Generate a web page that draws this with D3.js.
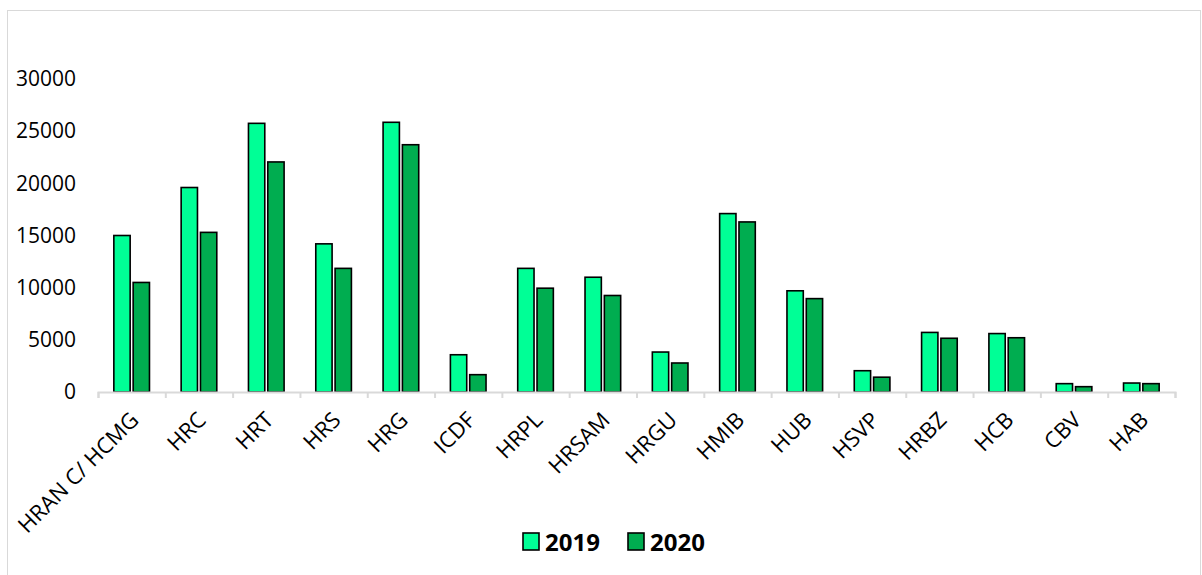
<!DOCTYPE html>
<html>
<head>
<meta charset="utf-8">
<script src="https://cdn.jsdelivr.net/npm/d3@7"></script>
<style>
  body { margin: 0; background: #fff; }
  svg { display: block; font-family: "Open Sans", sans-serif; }
</style>
</head>
<body>
<svg id="chart" width="1202" height="575"></svg>
<script>
const categories = ['HRAN C/ HCMG', 'HRC', 'HRT', 'HRS', 'HRG', 'ICDF', 'HRPL', 'HRSAM',
  'HRGU', 'HMIB', 'HUB', 'HSVP', 'HRBZ', 'HCB', 'CBV', 'HAB'];
const series = ['2019', '2020'];
const values2019 = [15000, 19600, 25750, 14200, 25850, 3570, 11850, 11000,
  3830, 17100, 9700, 2040, 5710, 5600, 800, 860];
const values2020 = [10500, 15300, 22050, 11850, 23700, 1660, 9950, 9250,
  2780, 16300, 8950, 1420, 5150, 5200, 510, 800];
const yTicks = [0, 5000, 10000, 15000, 20000, 25000, 30000];
const colors = ['#00FF96', '#00AD50'];

const svg = d3.select('#chart');

// outer border
svg.append('rect')
  .attr('x', 7.5).attr('y', 10.5)
  .attr('width', 1193).attr('height', 575)
  .attr('fill', 'none').attr('stroke', '#d9d9d9').attr('stroke-width', 1);

const plotLeft = 98, plotRight = 1175, baseline = 392, plotTop = 79;

const x = d3.scaleBand().domain(categories).range([plotLeft, plotRight]);
const x1 = d3.scaleBand().domain(series).range([0, x.bandwidth()])
  .paddingInner(0.155).paddingOuter(0.82);
const y = d3.scaleLinear().domain([0, 30000]).range([baseline, plotTop]);

// y axis labels only
const yAxis = svg.append('g')
  .attr('transform', `translate(${plotLeft},0)`)
  .call(d3.axisLeft(y).tickValues(yTicks).tickSize(0).tickPadding(22).tickFormat(d3.format('d')));
yAxis.select('.domain').remove();
yAxis.selectAll('text').attr('font-size', 21).attr('fill', '#000')
  .attr('font-family', '"Open Sans", sans-serif');

// bars
const rows = categories.map((c, i) => ({ cat: c, vals: [values2019[i], values2020[i]] }));
const groups = svg.append('g').selectAll('g').data(rows).join('g')
  .attr('transform', d => `translate(${x(d.cat)},0)`);
groups.selectAll('rect')
  .data(d => d.vals.map((v, k) => ({ key: series[k], v, k })))
  .join('rect')
  .attr('x', d => x1(d.key))
  .attr('width', x1.bandwidth())
  .attr('y', d => y(d.v))
  .attr('height', d => baseline - y(d.v))
  .attr('fill', d => colors[d.k])
  .attr('stroke', '#000')
  .attr('stroke-width', 1.6);

// x axis line with ticks at category boundaries
const xb = d3.scaleLinear().domain([0, categories.length]).range([plotLeft, plotRight]);
const xAxisLine = svg.append('g')
  .attr('transform', `translate(0,${baseline})`)
  .call(d3.axisBottom(xb).ticks(categories.length).tickSize(6).tickSizeOuter(6).tickFormat(''));
xAxisLine.selectAll('path, line').attr('stroke', '#d9d9d9').attr('stroke-width', 2);

// x labels
const xLabels = svg.append('g')
  .attr('transform', `translate(0,${baseline})`)
  .call(d3.axisBottom(x).tickSize(0).tickPadding(0));
xLabels.select('.domain').remove();
xLabels.selectAll('.tick text')
  .attr('font-size', 22)
  .attr('fill', '#000')
  .attr('font-family', '"Open Sans", sans-serif')
  .attr('text-anchor', 'end')
  .attr('dy', '0.35em')
  .attr('transform', 'translate(3,24) rotate(-45)');

// legend
const legend = svg.append('g').attr('transform', 'translate(523,533)');
const legendX = [0, 105];
series.forEach((s, k) => {
  const g = legend.append('g').attr('transform', `translate(${legendX[k]},0)`);
  g.append('rect').attr('width', 16).attr('height', 17)
    .attr('fill', colors[k]).attr('stroke', '#000').attr('stroke-width', 1.6);
  g.append('text').attr('x', 22).attr('y', 9).attr('dy', '0.36em')
    .attr('font-size', 24).attr('font-weight', 'bold').text(s);
});
</script>
</body>
</html>
